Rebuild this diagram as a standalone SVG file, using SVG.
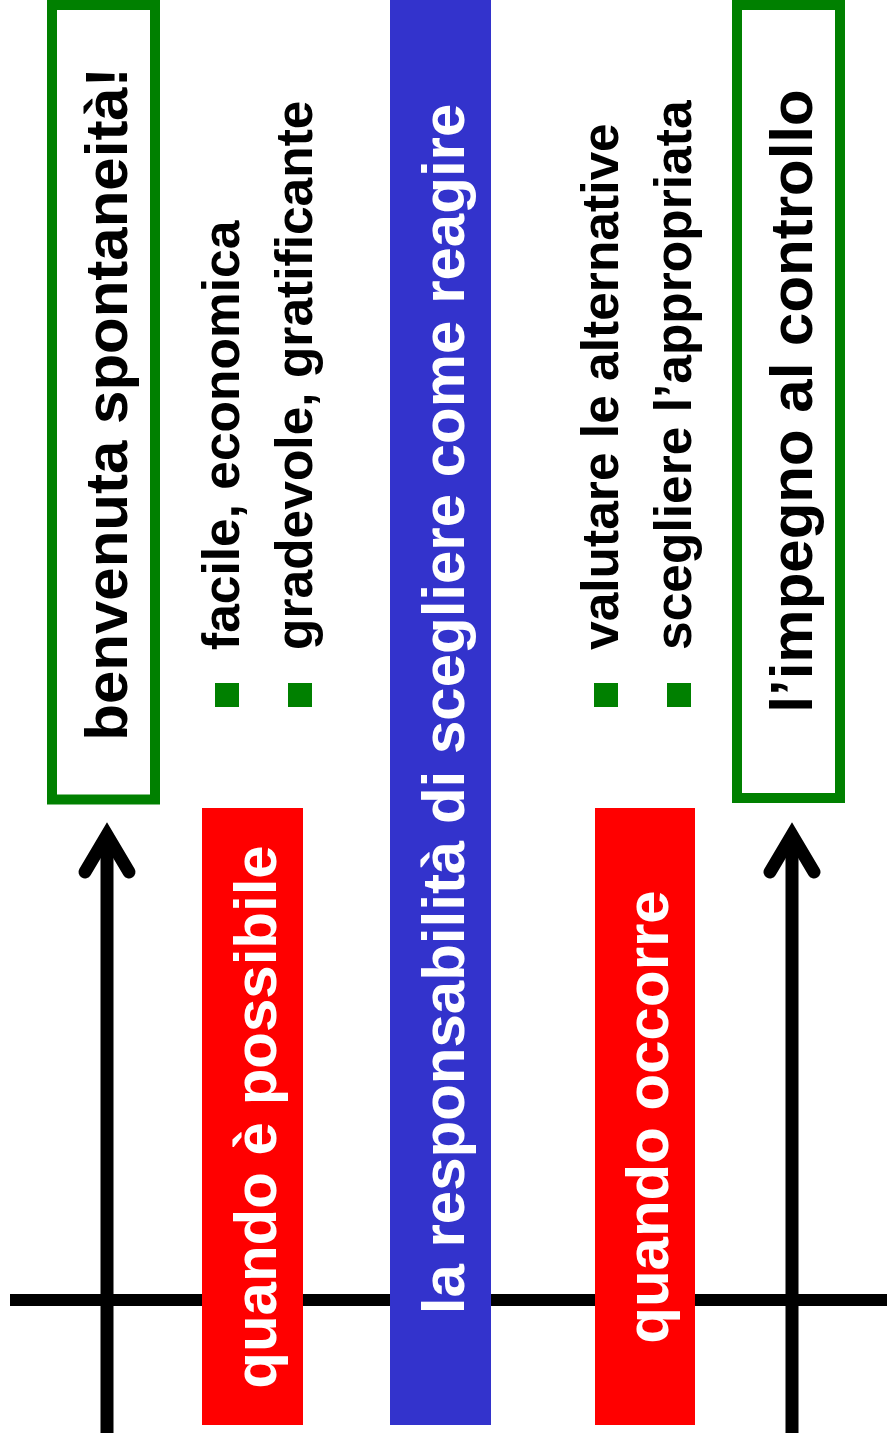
<svg xmlns="http://www.w3.org/2000/svg" width="887" height="1443" viewBox="0 0 887 1443">
<style>
.t{font-family:"Liberation Sans",Arial,sans-serif;font-weight:bold}
.big{font-size:60px}
.sm{font-size:51.5px;fill:#000}
.w{fill:#fff}
.k{fill:#000}
.gb{fill:#fff;stroke:#008000;stroke-width:10}
.bul{fill:#008000}
.ln{stroke:#000;stroke-width:13;fill:none}
.ah{stroke:#000;stroke-width:13;fill:none;stroke-linecap:round;stroke-linejoin:miter;stroke-miterlimit:10}
</style>
<rect width="887" height="1443" fill="#fff"/>
<g id="connectors">
<line class="ln" x1="10" y1="1300" x2="887" y2="1300" style="stroke-width:12"/>
<line class="ln" x1="107" y1="835" x2="107" y2="1433"/>
<polyline class="ah" points="85,872 107,835 129,872"/>
<line class="ln" x1="792" y1="835" x2="792" y2="1433"/>
<polyline class="ah" points="770,872 792,835 814,872"/>
</g>
<g id="spontaneita">
<rect class="gb" x="52" y="5" width="103" height="794.5"/>
<text class="t big k" transform="translate(127,404) rotate(-90)" text-anchor="middle">benvenuta spontaneità!</text>
</g>
<g id="possibile">
<rect x="202" y="808" width="101" height="617" fill="#ff0000"/>
<text class="t big w" transform="translate(276,1117) rotate(-90)" text-anchor="middle">quando è possibile</text>
</g>
<g id="bullets-left">
<rect class="bul" x="215" y="683" width="24" height="24"/>
<text class="t sm" transform="translate(239,650) rotate(-90)">facile, economica</text>
<rect class="bul" x="288" y="683" width="24" height="24"/>
<text class="t sm" transform="translate(312,650) rotate(-90)">gradevole, gratificante</text>
</g>
<g id="responsabilita">
<rect x="390" y="0" width="101" height="1425" fill="#3333cc"/>
<text class="t big w" transform="translate(464,709) rotate(-90)" text-anchor="middle">la responsabilità di scegliere come reagire</text>
</g>
<g id="bullets-right">
<rect class="bul" x="594" y="683" width="24" height="24"/>
<text class="t sm" transform="translate(618,650) rotate(-90)">valutare le alternative</text>
<rect class="bul" x="667" y="683" width="24" height="24"/>
<text class="t sm" transform="translate(691,650) rotate(-90)">scegliere l’appropriata</text>
</g>
<g id="occorre">
<rect x="595" y="808" width="100" height="617" fill="#ff0000"/>
<text class="t big w" transform="translate(668,1117) rotate(-90)" text-anchor="middle">quando occorre</text>
</g>
<g id="controllo">
<rect class="gb" x="737" y="5" width="103" height="793"/>
<text class="t big k" transform="translate(812,401) rotate(-90)" text-anchor="middle">l’impegno al controllo</text>
</g>
</svg>
